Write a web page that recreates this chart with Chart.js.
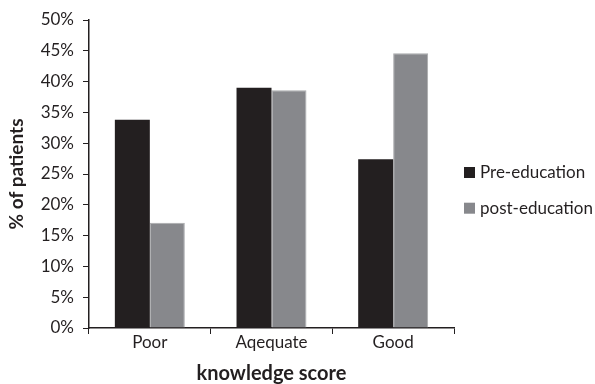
<!DOCTYPE html>
<html>
<head>
<meta charset="utf-8">
<script src="https://cdn.jsdelivr.net/npm/chart.js@4"></script>
<style>
  html, body { margin: 0; padding: 0; background: #fff; }
  #wrap { width: 595px; height: 384px; }
</style>
</head>
<body>
<div id="wrap"><canvas id="c" width="595" height="384"></canvas></div>
<script>
const categories = ['Poor', 'Aqequate', 'Good'];
const preEducation = [33.8, 39.0, 27.4];
const postEducation = [17.1, 38.6, 44.6];
const seriesNames = ['Pre-education', 'post-education'];
const yTicks = [0, 5, 10, 15, 20, 25, 30, 35, 40, 45, 50];

const DARK = '#231f20';
const GRAY = '#87888c';
const FONT = 'Lato, "Open Sans", sans-serif';

const legendPlugin = {
  id: 'sideLegend',
  afterDraw(chart) {
    const ctx = chart.ctx;
    const ds = chart.data.datasets;
    const x0 = 464, yStart = 172.5, gap = 35.7, box = 11;
    ctx.save();
    ctx.font = '17px ' + FONT;
    ctx.textBaseline = 'middle';
    ctx.textAlign = 'left';
    ds.forEach((d, i) => {
      const y = yStart + i * gap;
      ctx.fillStyle = d.backgroundColor;
      ctx.fillRect(x0, y - box / 2, box, box);
      ctx.fillStyle = '#231f20';
      ctx.fillText(d.label, x0 + 16, y + 0.5);
    });
    ctx.restore();
  }
};

new Chart(document.getElementById('c'), {
  type: 'bar',
  data: {
    labels: categories,
    datasets: [
      { label: seriesNames[0], data: preEducation, backgroundColor: DARK, borderWidth: 0 },
      { label: seriesNames[1], data: postEducation, backgroundColor: GRAY, borderColor: '#a9aaad', borderWidth: 1 }
    ]
  },
  options: {
    responsive: false,
    animation: false,
    devicePixelRatio: 1,
    layout: { padding: { top: 20, right: 141, left: 0, bottom: 0 } },
    datasets: { bar: { categoryPercentage: 0.575, barPercentage: 1.0 } },
    plugins: { legend: { display: false }, tooltip: { enabled: false } },
    scales: {
      x: {
        afterFit(scale) { scale.height = 56; },
        grid: { offset: true, drawOnChartArea: false, drawTicks: true, tickLength: 6, color: DARK, lineWidth: 1 },
        border: { color: DARK, width: 1.5 },
        ticks: { color: '#231f20', font: { family: FONT, size: 17, lineHeight: 1 }, padding: 0 },
        title: { display: true, text: 'knowledge score', color: '#231f20', font: { family: FONT, size: 20, weight: 'bold', lineHeight: 1 }, padding: { top: 0, bottom: 0 } }
      },
      y: {
        min: 0, max: 50,
        afterFit(scale) { scale.width = 89; },
        afterBuildTicks(scale) { scale.ticks = yTicks.map(v => ({ value: v })); },
        grid: { drawOnChartArea: false, drawTicks: true, tickLength: 6, color: DARK, lineWidth: 1 },
        border: { color: DARK, width: 1.5 },
        ticks: { color: '#231f20', font: { family: FONT, size: 17 }, padding: 9, callback: v => v + '%' },
        title: { display: true, text: '% of patients', color: '#231f20', font: { family: FONT, size: 19, weight: 'bold', lineHeight: 1 }, padding: { top: 7, bottom: 0 } }
      }
    }
  },
  plugins: [legendPlugin]
});
</script>
</body>
</html>
